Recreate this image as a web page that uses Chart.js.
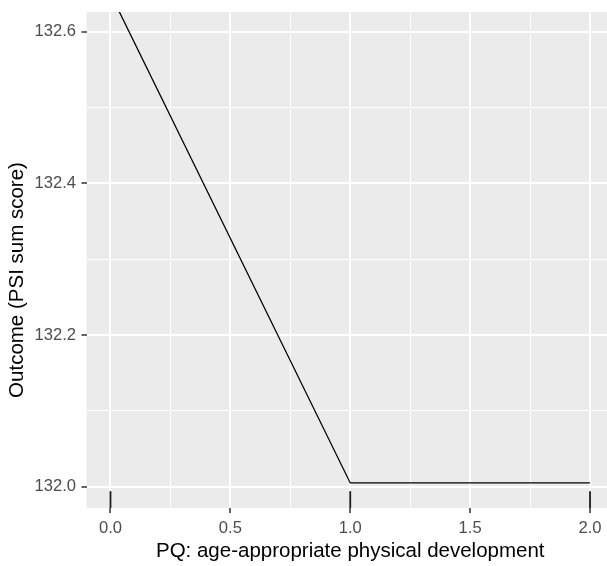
<!DOCTYPE html>
<html>
<head>
<meta charset="utf-8">
<script src="https://cdn.jsdelivr.net/npm/chart.js@4/dist/chart.umd.min.js"></script>
<style>
  html, body { margin: 0; padding: 0; background: #ffffff; width: 607px; height: 566px; overflow: hidden; }
  canvas { display: block; }
</style>
</head>
<body>
<canvas id="chart" width="614" height="566" style="width:614px;height:566px"></canvas>
<script>
// Predicted outcome across the PQ levels
const xValues = [0, 1, 2];
const yValues = [132.65, 132.005, 132.005];
// Observed PQ values shown as a rug along the bottom
const rugValues = [0, 1, 2];

// Axis ticks (major ones carry a label, minor ones only a grid line)
const xTickValues = [0, 0.25, 0.5, 0.75, 1, 1.25, 1.5, 1.75, 2];
const xTickLabels = ['0.0', '', '0.5', '', '1.0', '', '1.5', '', '2.0'];
const yTickValues = [132.0, 132.1, 132.2, 132.3, 132.4, 132.5, 132.6];
const yTickLabels = ['132.0', '', '132.2', '', '132.4', '', '132.6'];

const xTitle = 'PQ: age-appropriate physical development';
const yTitle = 'Outcome (PSI sum score)';

const FONT = "'Liberation Sans', Arial, Helvetica, sans-serif";
const PANEL_BG = '#EBEBEB';

const panelBackground = {
  id: 'panelBackground',
  beforeDraw(chart) {
    const { ctx, chartArea: a } = chart;
    ctx.save();
    ctx.fillStyle = PANEL_BG;
    ctx.fillRect(a.left, a.top, a.right - a.left, a.bottom - a.top);
    ctx.restore();
  }
};

const rug = {
  id: 'rug',
  afterDatasetsDraw(chart) {
    const { ctx, chartArea: a } = chart;
    const xs = chart.scales.x;
    const len = (a.bottom - a.top) * 0.034;
    ctx.save();
    ctx.strokeStyle = '#1a1a1a';
    ctx.lineWidth = 1.8;
    rugValues.forEach(v => {
      const px = xs.getPixelForValue(v);
      ctx.beginPath();
      ctx.moveTo(px, a.bottom);
      ctx.lineTo(px, a.bottom - len);
      ctx.stroke();
    });
    ctx.restore();
  }
};

// Vertical axis title, set slightly below the panel's middle
const yAxisTitle = {
  id: 'yAxisTitle',
  afterDraw(chart) {
    const { ctx, chartArea: a } = chart;
    ctx.save();
    ctx.translate(17.5, (a.top + a.bottom) / 2 + 20);
    ctx.rotate(-Math.PI / 2);
    ctx.fillStyle = '#000000';
    ctx.font = '20.5px ' + FONT;
    ctx.textAlign = 'center';
    ctx.textBaseline = 'middle';
    ctx.fillText(yTitle, 0, 0);
    ctx.restore();
  }
};

new Chart(document.getElementById('chart'), {
  type: 'line',
  data: {
    datasets: [{
      data: xValues.map((x, i) => ({ x: x, y: yValues[i] })),
      borderColor: '#000000',
      borderWidth: 1.3,
      pointRadius: 0,
      fill: false,
      tension: 0
    }]
  },
  options: {
    responsive: false,
    animation: false,
    devicePixelRatio: 1,
    layout: { padding: { top: 12, left: 0, right: 0, bottom: 0 } },
    plugins: { legend: { display: false }, tooltip: { enabled: false } },
    scales: {
      x: {
        type: 'linear',
        min: -0.1,
        max: 2.1,
        afterBuildTicks(scale) { scale.ticks = xTickValues.map(v => ({ value: v })); },
        afterFit(scale) {
          scale.height = 58;
          scale.paddingLeft = 0;
          scale.paddingRight = 0;
        },
        border: { display: false },
        grid: {
          color: '#FFFFFF',
          lineWidth: ctx => (xTickLabels[ctx.index] ? 2 : 1),
          drawTicks: true,
          tickLength: 5,
          tickWidth: 1.5,
          tickColor: ctx => (xTickLabels[ctx.index] ? '#333333' : 'rgba(0,0,0,0)')
        },
        ticks: {
          autoSkip: false,
          maxRotation: 0,
          padding: 5,
          color: '#4D4D4D',
          font: { family: FONT, size: 16.6 },
          callback: (value, index) => xTickLabels[index]
        },
        title: {
          display: true,
          text: xTitle,
          color: '#000000',
          font: { family: FONT, size: 20.5 },
          padding: { top: 0, bottom: 2.7 }
        }
      },
      y: {
        type: 'linear',
        min: 131.972,
        max: 132.626,
        afterBuildTicks(scale) { scale.ticks = yTickValues.map(v => ({ value: v })); },
        afterFit(scale) {
          scale.width = 86.5;
          scale.paddingTop = 0;
          scale.paddingBottom = 0;
        },
        border: { display: false },
        grid: {
          color: '#FFFFFF',
          lineWidth: ctx => (yTickLabels[ctx.index] ? 2 : 1),
          drawTicks: true,
          tickLength: 5,
          tickWidth: 1.5,
          tickColor: ctx => (yTickLabels[ctx.index] ? '#333333' : 'rgba(0,0,0,0)')
        },
        ticks: {
          autoSkip: false,
          padding: 5.5,
          color: '#4D4D4D',
          font: { family: FONT, size: 16.6 },
          callback: (value, index) => yTickLabels[index]
        },
        title: { display: false }
      }
    }
  },
  plugins: [panelBackground, rug, yAxisTitle]
});
</script>
</body>
</html>
